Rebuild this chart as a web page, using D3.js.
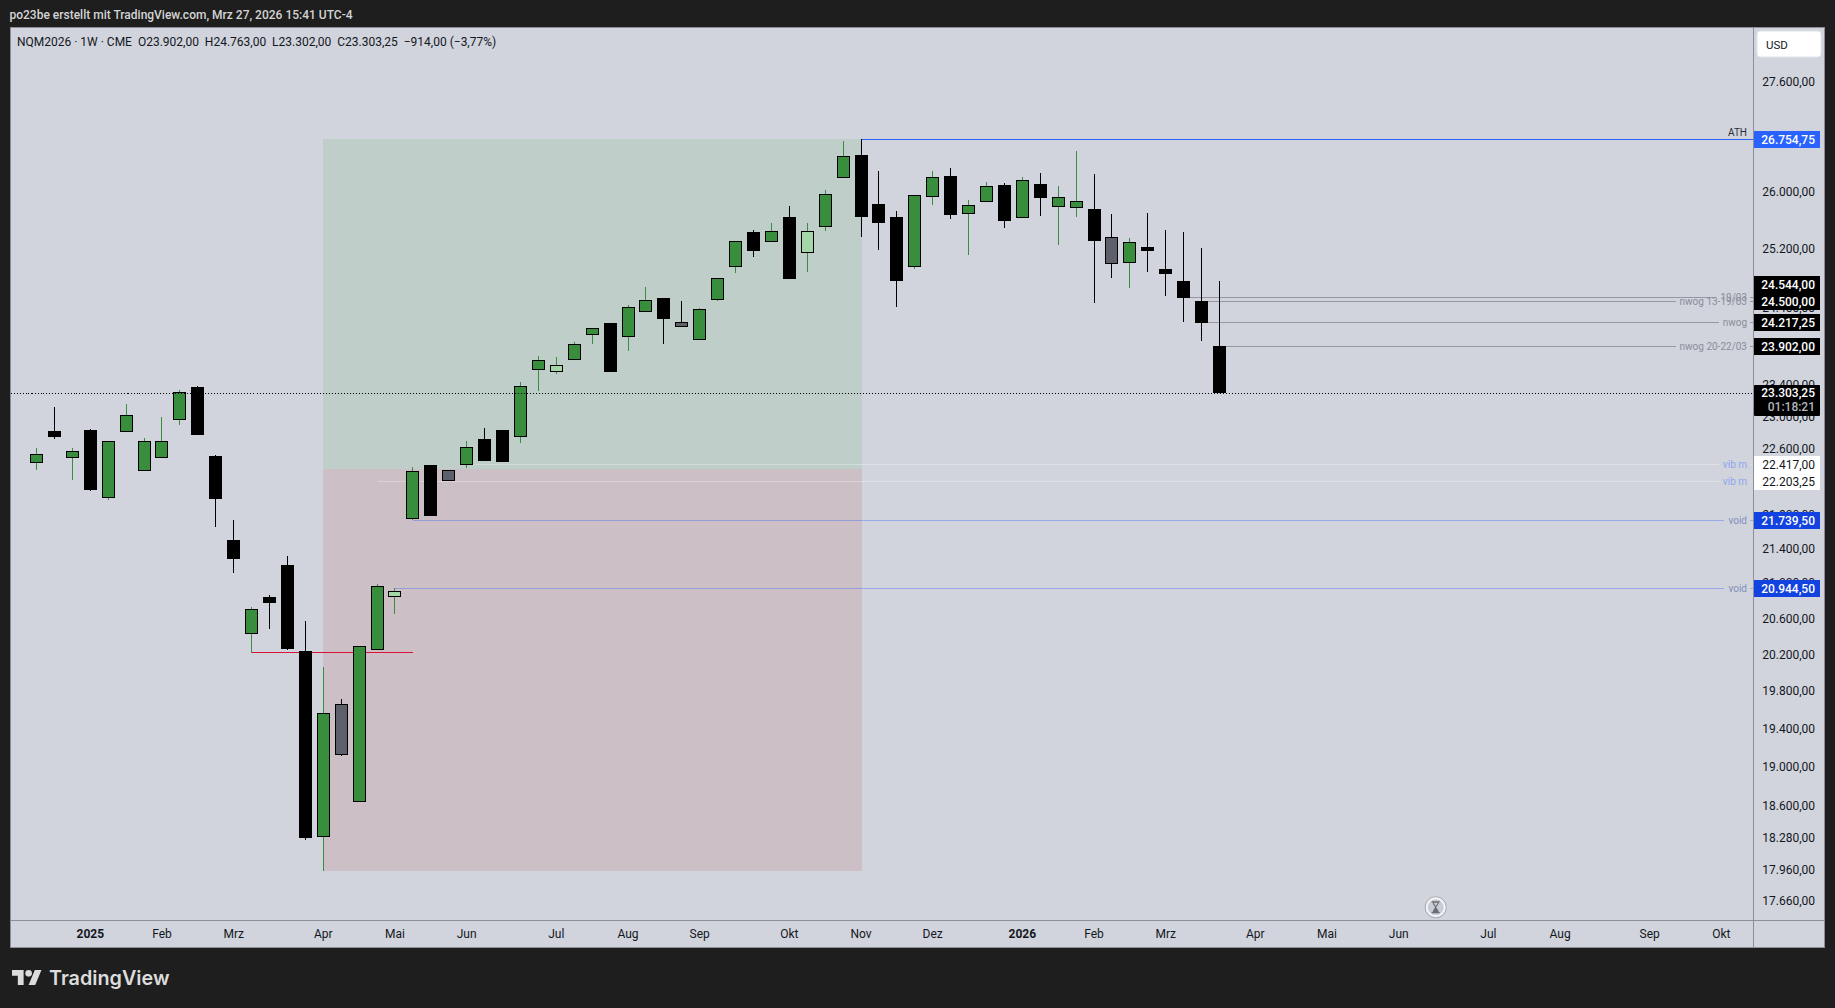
<!DOCTYPE html>
<html><head><meta charset="utf-8">
<style>
html,body{margin:0;padding:0;background:#1e1e1e;overflow:hidden}
svg{display:block}
text{font-family:Roboto,"Noto Sans",sans-serif}
</style></head><body>
<script src="https://cdn.jsdelivr.net/npm/d3@7"></script>
<script>
// ---- data ----
const opens=[22430,22820,22480,22835,22005,22810,22330,22490,22960,23375,22510,21505,20430,20845,21210,20240,18290,19660,18645,20255,20850,21755,22400,22335,22405,22720,22835,22740,23585,23570,23725,24040,24205,24015,24355,24540,24215,23975,24515,24960,25440,25290,25645,25140,25500,26190,26530,25830,25645,24960,25920,26225,25680,25850,26100,25625,26115,25790,25765,25760,25365,25015,25230,24930,24765,24500,23902];
const highs=[22605,23120,22605,22845,22695,23160,22735,22995,23335,23390,22525,21740,20730,20870,21315,20575,20065,19715,20290,20995,20945,22375,22400,22335,22695,22855,22835,23435,23775,23755,23955,24135,24205,24445,24685,24540,24495,24405,24805,25310,25465,25565,25800,25565,26030,26735,26754.75,26300,25730,25955,26300,26340,25885,26140,26125,26215,26270,26085,26585,26255,25690,25355,25705,25465,25440,25215,24763];
const lows=[22340,22720,22220,22085,21980,22810,22330,22490,22895,22770,21655,21120,20220,20485,20250,18255,17950,19115,18645,20255,20655,21740,21785,22200,22365,22450,22440,22675,23325,23540,23725,23930,23570,23840,24355,23930,24155,23975,24500,24875,25095,25290,24795,24890,25450,26190,25360,25190,24420,24930,25815,25620,25120,25850,25495,25625,25660,25260,25645,24470,24810,24675,24890,24565,24220,23970,23302];
const closes=[22535,22745,22570,22100,22695,23015,22695,22695,23310,22770,21990,21280,20705,20775,20260,18275,19565,19125,20290,20965,20910,22325,21785,22200,22620,22450,22440,23385,23720,23655,23925,24135,23570,24415,24510,24260,24155,24390,24805,25310,25175,25450,24795,25450,25965,26510,25645,25565,24765,25955,26210,25675,25810,26080,25590,26165,25915,25925,25870,25315,24990,25295,25175,24860,24540,24205,23303.25];
const grayBars=[17,23,36,60];
const paleBars=[20,29,43];

const priceTicks=[27600,26000,25200,24400,23400,23000,22600,22200,21800,21400,21000,20600,20200,19800,19400,19000,18600,18280,17960,17660];
const timeTickBars=[3,7,11,16,20,24,29,33,37,42,46,50,55,59,63,68,72,76,81,85,90,94];
const timeTickLabels=["2025","Feb","Mrz","Apr","Mai","Jun","Jul","Aug","Sep","Okt","Nov","Dez","2026","Feb","Mrz","Apr","Mai","Jun","Jul","Aug","Sep","Okt"];

// horizontal levels: price, note, starting bar
const levelPrices=[26754.75,24544,24500,24217.25,23902,22417,22203.25,21739.5,20944.5];
const levelNotes=["ATH","19/03","nwog 13-19/03","nwog","nwog 20-22/03","vib m","vib m","void","void"];
const levelBars=[46,64,65,65,66,24,19,21,20];
const levelKinds=["ath","nwog","nwog","nwog","nwog","vib","vib","void","void"];

const lastPrice=23303.25, countdown="01:18:21";
const swingLow=20225, swingBars=[12,21];
const zoneBars=[16,46], zoneTop=26754.75, zoneMid=22353, zoneBottom=17950;

// ---- layout and look ----
const W=1835,H=1008;
const panel={l:10.5,t:27.5,r:1824.5,b:947.5};
const axisX=1753.5, axisY=920.5;
const C={bg:"#d1d4dc",frame:"#1e1e1e",line:"#8b8e97",up:"#388e3c",down:"#000",gray:"#5d606b",pale:"#a5d6a7",
  zoneG:"#bfcec9",zoneR:"#cdbfc6"};
const kindStyle={
  ath:{line:"#2962ff",text:"#2a2e39",box:"#2962ff",fg:"#fff",bold:true},
  nwog:{line:"#9598a1",text:"#8a8d98",box:"#000",fg:"#fff",bold:true},
  vib:{line:"rgba(255,255,255,0.3)",text:"#8ea6ef",box:"#fff",fg:"#131722",bold:false},
  void:{line:"rgba(41,98,255,0.35)",text:"#8090bc",box:"#1242e0",fg:"#fff",bold:true}
};

const y=d3.scaleLog().domain([26754.75,17660]).range([139.2,901.1]);
const x=d3.scaleLinear().domain([0,66]).range([36,1219]);
const num=d3.formatLocale({decimal:",",thousands:".",grouping:[3],currency:["","€"]}).format(",.2f");
const snapX=i=>Math.round(x(i))+0.5;
const snapY=v=>Math.round(y(v));

const svg=d3.select("body").append("svg").attr("width",W).attr("height",H);
svg.append("rect").attr("width",W).attr("height",H).attr("fill",C.frame);

svg.append("text").attr("x",9.5).attr("y",15).attr("dominant-baseline","central")
  .attr("font-size",12).attr("fill","#d4d4d4").attr("font-weight",500)
  .text("po23be erstellt mit TradingView.com, Mrz 27, 2026 15:41 UTC-4");

svg.append("rect").attr("x",panel.l).attr("y",panel.t).attr("width",panel.r-panel.l).attr("height",panel.b-panel.t)
  .attr("fill",C.bg).attr("stroke",C.line);

svg.append("defs").append("clipPath").attr("id","plot").append("rect")
  .attr("x",panel.l).attr("y",panel.t).attr("width",axisX-panel.l).attr("height",axisY-panel.t);
const plot=svg.append("g").attr("clip-path","url(#plot)").attr("shape-rendering","crispEdges");

// zones
const zx0=Math.round(x(zoneBars[0])), zx1=Math.round(x(zoneBars[1]))+1;
plot.append("rect").attr("x",zx0).attr("width",zx1-zx0)
  .attr("y",snapY(zoneTop)).attr("height",snapY(zoneMid)-snapY(zoneTop)).attr("fill",C.zoneG);
plot.append("rect").attr("x",zx0).attr("width",zx1-zx0)
  .attr("y",snapY(zoneMid)).attr("height",snapY(zoneBottom)-snapY(zoneMid)).attr("fill",C.zoneR);

// levels with their notes
const noteEnd=1747;
levelPrices.forEach((p,k)=>{
  const s=kindStyle[levelKinds[k]], yy=snapY(p)+0.5, x0=snapX(levelBars[k]);
  const isAth=levelKinds[k]==="ath";
  const t=svg.append("text").attr("x",noteEnd).attr("text-anchor","end")
    .attr("y",isAth?yy-7.5:yy).attr("dominant-baseline","central")
    .attr("font-size",10).attr("fill",s.text).text(levelNotes[k]);
  const seg=(a,b)=>plot.append("line").attr("x1",a).attr("x2",b).attr("y1",yy).attr("y2",yy).attr("stroke",s.line);
  if(isAth) seg(x0,axisX);
  else {
    const w=t.node().getComputedTextLength();
    seg(x0,noteEnd-w-4); seg(noteEnd+3,axisX);
  }
});

// swing low line
plot.append("line").attr("x1",snapX(swingBars[0])).attr("x2",snapX(swingBars[1]))
  .attr("y1",snapY(swingLow)+0.5).attr("y2",snapY(swingLow)+0.5).attr("stroke","#dc1138");

// candles
const bars=d3.range(opens.length).map(i=>({i,o:opens[i],h:highs[i],l:lows[i],c:closes[i]}));
const candle=plot.selectAll("g.c").data(bars).join("g").attr("class","c");
const isUp=d=>d.c>=d.o;
candle.append("rect")
  .attr("x",d=>snapX(d.i)-0.5).attr("width",1)
  .attr("y",d=>snapY(d.h)).attr("height",d=>Math.max(1,snapY(d.l)-snapY(d.h)))
  .attr("fill",d=>isUp(d)?C.up:C.down);
candle.append("rect")
  .attr("x",d=>snapX(d.i)-6).attr("width",12)
  .attr("y",d=>snapY(Math.max(d.o,d.c))+0.5)
  .attr("height",d=>Math.max(1,snapY(Math.min(d.o,d.c))-snapY(Math.max(d.o,d.c))-1))
  .attr("fill",d=>grayBars.includes(d.i)?C.gray:paleBars.includes(d.i)?C.pale:isUp(d)?C.up:C.down)
  .attr("stroke","#000");

// last price dotted line
plot.append("line").attr("x1",panel.l).attr("x2",axisX)
  .attr("y1",snapY(lastPrice)+0.5).attr("y2",snapY(lastPrice)+0.5)
  .attr("stroke","#000").attr("stroke-dasharray","1 2");

// axes lines
svg.append("line").attr("x1",panel.l).attr("x2",panel.r).attr("y1",axisY).attr("y2",axisY).attr("stroke",C.line);
svg.append("line").attr("x1",axisX).attr("x2",axisX).attr("y1",panel.t).attr("y2",panel.b).attr("stroke",C.line);

// price axis
const priceAxis=d3.axisRight(y).tickValues(priceTicks).tickFormat(num).tickSize(0).tickPadding(0).offset(0);
const pg=svg.append("g").attr("transform",`translate(1815,0)`).call(priceAxis);
pg.select(".domain").remove();
pg.selectAll("text").attr("text-anchor","end").attr("x",0).attr("dy",null).attr("dominant-baseline","central")
  .attr("font-size",12).attr("font-family",null).attr("fill","#131722");

// time axis
const timeAxis=d3.axisBottom(x).tickValues(timeTickBars).tickFormat((d,i)=>timeTickLabels[i]).tickSize(0).tickPadding(0);
const tg=svg.append("g").attr("transform",`translate(0,${axisY})`).call(timeAxis);
tg.select(".domain").remove();
tg.selectAll("text").attr("y",13).attr("dy",null).attr("dominant-baseline","central")
  .attr("font-size",12).attr("font-family",null).attr("fill","#131722")
  .attr("font-weight",(d,i)=>/^\d+$/.test(timeTickLabels[i])?700:400);

// price labels
const labelCenter=(p,k)=>{ // the label stack pushes the 24.544 tag upward out of the 24.500 tag's way
  return levelPrices[k]===24544?y(24500)-17:y(p);
};
const tagLeft=axisX+0.5,tagW=66,tagH=17;
levelPrices.forEach((p,k)=>{
  const s=kindStyle[levelKinds[k]], cy=Math.round(labelCenter(p,k))+0.5;
  svg.append("rect").attr("x",tagLeft).attr("y",cy-tagH/2).attr("width",tagW).attr("height",tagH)
    .attr("rx",1).attr("fill",s.box).attr("shape-rendering","crispEdges");
  svg.append("text").attr("x",1815).attr("y",cy).attr("text-anchor","end").attr("dominant-baseline","central")
    .attr("font-size",12).attr("font-weight",s.bold?500:400).attr("fill",s.fg).text(num(p));
});
const ly=Math.round(y(lastPrice));
svg.append("rect").attr("x",tagLeft).attr("y",ly-8).attr("width",tagW).attr("height",31).attr("rx",1).attr("fill","#000");
svg.append("text").attr("x",1815).attr("y",ly).attr("text-anchor","end").attr("dominant-baseline","central")
  .attr("font-size",12).attr("font-weight",500).attr("fill","#fff").text(num(lastPrice));
svg.append("text").attr("x",1815).attr("y",ly+14).attr("text-anchor","end").attr("dominant-baseline","central")
  .attr("font-size",12).attr("font-weight",500).attr("fill","#b2b5be").text(countdown);

// USD button
svg.append("rect").attr("x",1757).attr("y",31).attr("width",64).attr("height",26).attr("rx",3)
  .attr("fill","#fff").attr("stroke","#e2e4ea");
svg.append("text").attr("x",1766).attr("y",44.5).attr("dominant-baseline","central")
  .attr("font-size",11.5).attr("fill","#131722").text("USD");

// legend
svg.append("text").attr("x",17).attr("y",41.5).attr("dominant-baseline","central").attr("xml:space","preserve")
  .style("white-space","pre").attr("font-size",12).attr("fill","#131722")
  .text("NQM2026 · 1W · CME  O23.902,00  H24.763,00  L23.302,00  C23.303,25  −914,00 (−3,77%)");

// hourglass badge
const hg=svg.append("g").attr("transform","translate(1435.7,907.3)");
hg.append("circle").attr("r",10.5).attr("fill","none").attr("stroke","#8b8e97").attr("stroke-width",0.7);
hg.append("circle").attr("r",9).attr("fill","#c9ccd4").attr("stroke","#f4f5f7").attr("stroke-width",2);
hg.append("path").attr("fill","#6a6c72").attr("d","M-4 -6H4V-4.8H3C3 -2.8 1 -1.4 .6 0C1 1.4 3 2.8 3 4.8H4V6H-4V4.8H-3C-3 2.8 -1 1.4 -.6 0C-1 -1.4 -3 -2.8 -3 -4.8H-4Z");
hg.append("path").attr("fill","#c9ccd4").attr("d","M-2 -4.6H2L.4 -1.6H-.4Z");

// brand
const logo=svg.append("g").attr("transform","translate(12,966.7) scale(0.83)").attr("fill","#dcdcdc");
logo.append("path").attr("d","M14 22H7V11H0V4h14v18zM28 22h-8l7.5-18h8L28 22z");
logo.append("circle").attr("cx",20).attr("cy",8).attr("r",4);
svg.append("text").attr("x",49).attr("y",977.5).attr("dominant-baseline","central")
  .attr("font-size",19.8).attr("font-weight",600).attr("fill","#dcdcdc").style("font-family","Inter,Roboto,sans-serif").text("TradingView");
</script>
</body></html>
